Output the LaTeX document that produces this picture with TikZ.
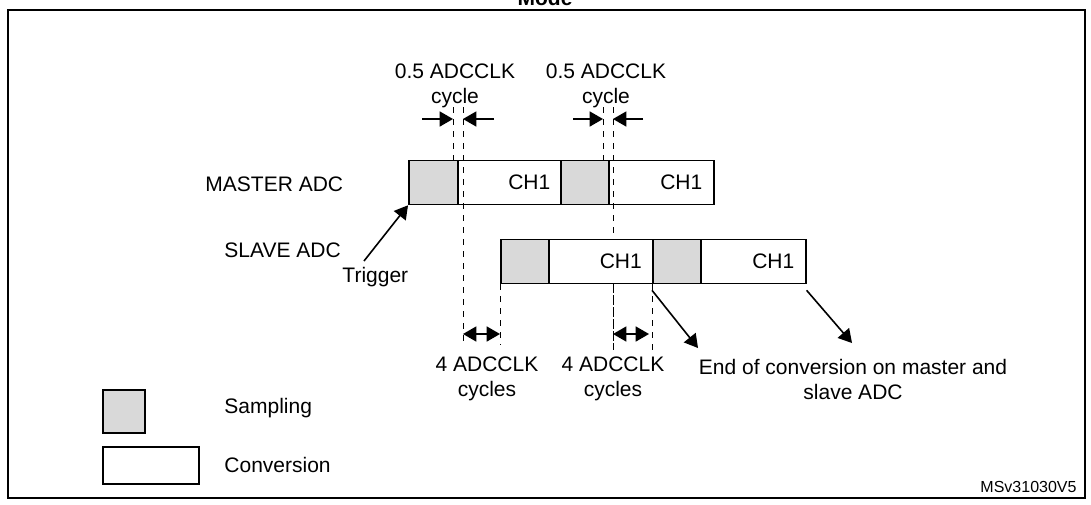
\documentclass[tikz,border=0pt]{standalone}
\usepackage{fontspec}
\setmainfont{Liberation Sans}
\usetikzlibrary{arrows,positioning}

\begin{document}
\begin{tikzpicture} [x=0.5pt,y=-0.5pt,>=triangle 60,thick,font=\fontsize{10.5}{12.5}\selectfont]
    \tikzset {
      samp/.style={rectangle,draw,fill=black!15,minimum height=22pt,inner sep=0pt,anchor=west},
      conv/.style={rectangle,draw,fill=white,minimum height=22pt,inner sep=0pt,anchor=west},
      guide/.style={dashed,thin},
      lbl/.style={align=center,inner sep=0pt}
    }
    \useasboundingbox (0,0) rectangle (1091,504);
    \node [font=\fontsize{10.5}{12}\selectfont\bfseries] (title) at (545,-2) {Mode};
    \draw (8,10) rectangle (1085,498);
    % master
    \node [samp, minimum width=24.5pt] (ms1) at (408,182.5) {};
    \node [conv, minimum width=51.5pt] (mc1) at (457,182.5) {\hspace{20pt}CH1};
    \node [samp, minimum width=24pt] (ms2) at (560,182.5) {};
    \node [conv, minimum width=52.5pt] (mc2) at (608,182.5) {\hspace{20pt}CH1};
    % guides
    \draw [guide] (453,107) -- (453,160);
    \draw [guide] (463,107) -- (463,345);
    \draw [guide] (603,107) -- (603,160);
    \draw [guide] (613,107) -- (613,350);
    % slave
    \node [samp, minimum width=24pt] (ss1) at (500,261.5) {};
    \node [conv, minimum width=52pt] (sc1) at (548,261.5) {\hspace{20pt}CH1};
    \node [samp, minimum width=24pt] (ss2) at (652,261.5) {};
    \node [conv, minimum width=52.5pt] (sc2) at (700,261.5) {\hspace{20pt}CH1};
    \draw [guide] (613,283) -- (613,350);
    \draw [guide] (ss1.south west) -- (500,345);
    \draw [guide] (ss2.south west) -- (652,350);
    \node [anchor=west] (master) at (198,184) {MASTER ADC};
    \node [anchor=west] (slave) at (217,250) {SLAVE ADC};
    \node [anchor=west] (trig) at (335,277) {Trigger};
    \draw [->] (422,119) -- (453,119);
    \draw [->] (494,119) -- (463,119);
    \draw [->] (573,119) -- (603,119);
    \draw [->] (643,119) -- (613,119);
    \draw [<->] (463,334) -- (500,334);
    \draw [<->] (613,334) -- (649,334);
    \node [lbl] (half1) at (455,86) {0.5 ADCCLK\\cycle};
    \node [lbl] (half2) at (606,86) {0.5 ADCCLK\\cycle};
    \node [lbl] (four1) at (487,379) {4 ADCCLK\\cycles};
    \node [lbl] (four2) at (613,379) {4 ADCCLK\\cycles};
    \node [lbl] (eoc) at (853,379) {End of conversion on master and\\slave ADC};
    \draw [->] (364,261) -- (ms1.south west);
    \draw [->] ([yshift=-3pt]ss2.south west) -- (698,348);
    \draw [->] ([yshift=-3pt]sc2.south east) -- (852,343);
    % legend
    \node [samp, minimum width=21pt, minimum height=21.5pt] (lsamp) at (102,411.5) {};
    \node [conv, minimum width=48pt, minimum height=18.5pt] (lconv) at (102,465.5) {};
    \node [anchor=west] (lsampt) at (217,408) {Sampling};
    \node [anchor=west] (lconvt) at (217,465) {Conversion};
    \node [anchor=east, font=\fontsize{8}{9}\selectfont] (id) at (1084,487) {MSv31030V5};
\end{tikzpicture}
\end{document}
